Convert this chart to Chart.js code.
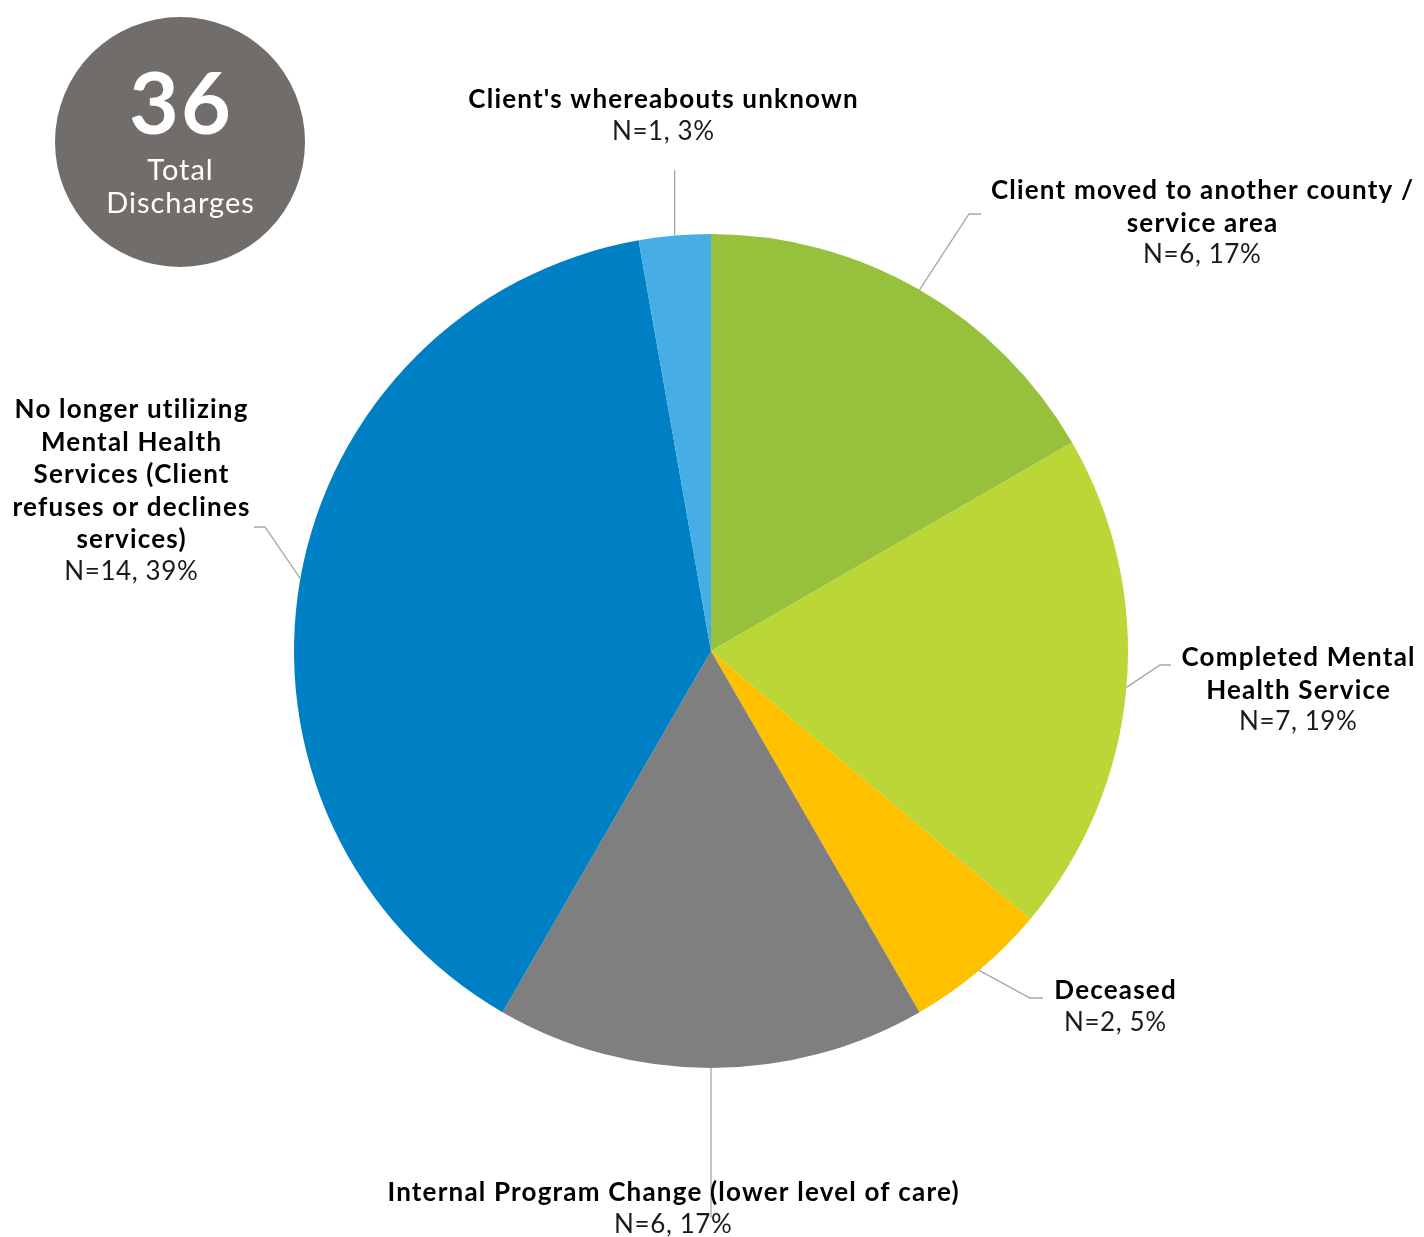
<!DOCTYPE html>
<html>
<head>
<meta charset="utf-8">
<script src="https://cdn.jsdelivr.net/npm/chart.js@4.4.1/dist/chart.umd.min.js"></script>
<style>
  html, body { margin:0; padding:0; background:#fff; }
  #wrap { width:1424px; height:1237px; position:relative; }
</style>
</head>
<body>
<div id="wrap"><canvas id="pie"></canvas></div>
<script>
// data
const categories = [
  "Client moved to another county / service area",
  "Completed Mental Health Service",
  "Deceased",
  "Internal Program Change (lower level of care)",
  "No longer utilizing Mental Health Services (Client refuses or declines services)",
  "Client's whereabouts unknown"
];
const labelLines = [
  ["Client moved to another county /", "service area"],
  ["Completed Mental", "Health Service"],
  ["Deceased"],
  ["Internal Program Change (lower level of care)"],
  ["No longer utilizing", "Mental Health", "Services (Client", "refuses or declines", "services)"],
  ["Client's whereabouts unknown"]
];
const counts = [6, 7, 2, 6, 14, 1];
const percents = [17, 19, 5, 17, 39, 3];
const colors = ['#97c13c', '#bad637', '#ffc000', '#7f7f7f', '#0080c4', '#47aee5'];
const totalDischarges = 36;

const FONT = 'Lato, "DejaVu Sans", sans-serif';

// where each label block sits + leader line knee/end
const labelPlace = [
  { x: 1202, y: 191, knee: [969, 214], end: [981, 214] },
  { x: 1298, y: 658, knee: [1160, 665], end: [1171, 665] },
  { x: 1115, y: 991, knee: [1030, 998], end: [1043, 998] },
  { x: 673,  y: 1193, knee: null, end: [711, 1218] },
  { x: 131,  y: 410, knee: [265, 527], end: [254, 527] },
  { x: 663,  y: 100, knee: null, end: [675, 170] }
];

function spacedText(ctx, t, x, y, sp) {
  ctx.letterSpacing = sp + 'px';
  ctx.fillText(t, x + sp / 2, y);
  ctx.letterSpacing = '0px';
}

const calloutPlugin = {
  id: 'callouts',
  afterDatasetsDraw(chart) {
    const ctx = chart.ctx;
    const meta = chart.getDatasetMeta(0);
    const lineH = 32.5;
    ctx.save();
    meta.data.forEach((arc, i) => {
      const p = labelPlace[i];
      const mid = (arc.startAngle + arc.endAngle) / 2;
      const sx = arc.x + arc.outerRadius * Math.cos(mid);
      const sy = arc.y + arc.outerRadius * Math.sin(mid);
      ctx.strokeStyle = '#a6a6a6';
      ctx.lineWidth = 1.3;
      ctx.beginPath();
      ctx.moveTo(sx, sy);
      if (p.knee) { ctx.lineTo(p.knee[0], p.knee[1]); ctx.lineTo(p.end[0], p.end[1]); }
      else { ctx.lineTo(sx, p.end[1]); }
      ctx.stroke();

      ctx.textAlign = 'center';
      ctx.textBaseline = 'middle';
      ctx.fillStyle = '#000';
      ctx.font = 'bold 26px ' + FONT;
      labelLines[i].forEach((t, k) => spacedText(ctx, t, p.x, p.y + k * lineH, 1.2));
      ctx.fillStyle = '#1a1a1a';
      ctx.font = '26px ' + FONT;
      spacedText(ctx, 'N=' + counts[i] + ', ' + percents[i] + '%', p.x, p.y + labelLines[i].length * lineH - 1, 0.6);
    });

    // total badge
    ctx.fillStyle = '#716d6b';
    ctx.beginPath();
    ctx.arc(180, 142, 125, 0, Math.PI * 2);
    ctx.fill();
    ctx.fillStyle = '#fff';
    ctx.textAlign = 'center';
    ctx.textBaseline = 'middle';
    ctx.font = 'bold 86px ' + FONT;
    spacedText(ctx, String(totalDischarges), 180, 106, 2);
    ctx.font = '29px ' + FONT;
    spacedText(ctx, 'Total', 180, 171, 1);
    spacedText(ctx, 'Discharges', 180, 204, 1);
    ctx.restore();
  }
};

new Chart(document.getElementById('pie'), {
  type: 'pie',
  data: {
    labels: categories,
    datasets: [{ data: counts, backgroundColor: colors, borderWidth: 0 }]
  },
  options: {
    responsive: true,
    maintainAspectRatio: false,
    animation: false,
    layout: { padding: { top: 234, bottom: 169, left: 294, right: 296 } },
    plugins: { legend: { display: false }, tooltip: { enabled: false } }
  },
  plugins: [calloutPlugin]
});
</script>
</body>
</html>
